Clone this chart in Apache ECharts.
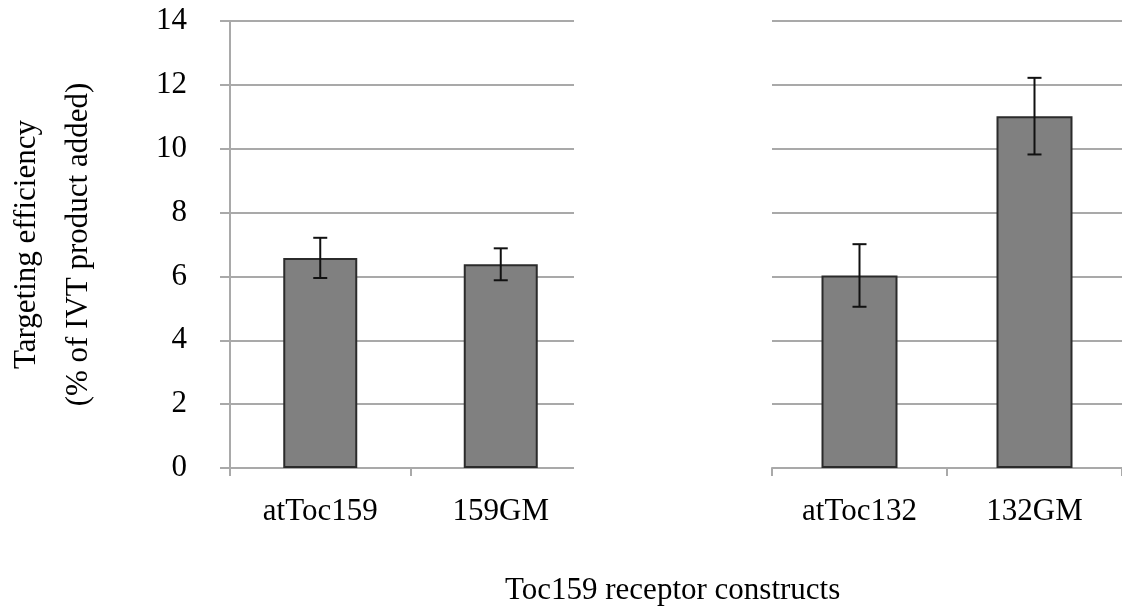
<!DOCTYPE html>
<html>
<head>
<meta charset="utf-8">
<style>
  html, body { margin: 0; padding: 0; background: #fff; }
  #main { width: 1122px; height: 611px; }
</style>
<script src="https://cdn.jsdelivr.net/npm/echarts@6/dist/echarts.min.js"></script>
</head>
<body>
<div id="main"></div>
<script>
// data
var leftCategories = ['atToc159', '159GM'];
var leftValues = [6.58, 6.38];
var leftErrors = [0.63, 0.5];

var rightCategories = ['atToc132', '132GM'];
var rightValues = [6.03, 11.02];
var rightErrors = [0.98, 1.2];

var yTicks = [0, 2, 4, 6, 8, 10, 12, 14];

var serif = "'Liberation Serif', 'Times New Roman', serif";
var gridColor = '#a9a9a9';

function errData(values, errors) {
    return values.map(function (v, i) { return [i, v, errors[i]]; });
}

// error bar with small caps
function renderErr(params, api) {
    var x = api.value(0), v = api.value(1), e = api.value(2);
    var hi = api.coord([x, v + e]);
    var lo = api.coord([x, v - e]);
    var cap = 7;
    var style = { stroke: '#111', lineWidth: 2 };
    return {
        type: 'group',
        children: [
            { type: 'line', shape: { x1: hi[0], y1: hi[1], x2: lo[0], y2: lo[1] }, style: style },
            { type: 'line', shape: { x1: hi[0] - cap, y1: hi[1], x2: hi[0] + cap, y2: hi[1] }, style: style },
            { type: 'line', shape: { x1: lo[0] - cap, y1: lo[1], x2: lo[0] + cap, y2: lo[1] }, style: style }
        ]
    };
}

function yAxisFor(gridIndex, showAxis) {
    return {
        type: 'value',
        gridIndex: gridIndex,
        min: yTicks[0],
        max: yTicks[yTicks.length - 1],
        interval: 2,
        axisLine: { show: showAxis, lineStyle: { color: gridColor, width: 2 } },
        axisTick: { show: showAxis, length: 10, lineStyle: { color: gridColor, width: 2 } },
        axisLabel: { show: showAxis, color: '#000', fontSize: 31, fontFamily: serif, margin: 43 },
        splitLine: { show: true, lineStyle: { color: gridColor, width: 2 } },
        name: showAxis ? 'Targeting efficiency\n(% of IVT product added)' : '',
        nameLocation: 'middle',
        nameRotate: 90,
        nameGap: 125,
        nameTextStyle: { color: '#000', fontSize: 31, fontFamily: serif, lineHeight: 52 }
    };
}

function xAxisFor(gridIndex, cats) {
    return {
        type: 'category',
        gridIndex: gridIndex,
        data: cats,
        axisLine: { show: true, lineStyle: { color: gridColor, width: 2 } },
        axisTick: { show: true, length: 8, lineStyle: { color: gridColor, width: 2 } },
        axisLabel: { color: '#000', fontSize: 31, fontFamily: serif, margin: 28 }
    };
}

var barStyle = { color: '#808080', borderColor: '#2b2b2b', borderWidth: 2 };

var myChart = echarts.init(document.getElementById('main'));
var option = {
    animation: false,
    backgroundColor: '#fff',
    title: {
        text: 'Toc159 receptor constructs',
        left: 500,
        top: 570,
        textStyle: { color: '#000', fontSize: 31, fontWeight: 'normal', fontFamily: serif }
    },
    grid: [
        { left: 221, top: 21, width: 370, height: 447 },
        { left: 772, top: 21, width: 360, height: 447 }
    ],
    xAxis: [xAxisFor(0, leftCategories), xAxisFor(1, rightCategories)],
    yAxis: [yAxisFor(0, true), yAxisFor(1, false)],
    series: [
        { type: 'bar', xAxisIndex: 0, yAxisIndex: 0, data: leftValues, barWidth: 74, itemStyle: barStyle },
        { type: 'bar', xAxisIndex: 1, yAxisIndex: 1, data: rightValues, barWidth: 76, itemStyle: barStyle },
        { type: 'custom', xAxisIndex: 0, yAxisIndex: 0, data: errData(leftValues, leftErrors), renderItem: renderErr, z: 5 },
        { type: 'custom', xAxisIndex: 1, yAxisIndex: 1, data: errData(rightValues, rightErrors), renderItem: renderErr, z: 5 }
    ],
    // the right panel sits over the end of the left one
    graphic: [{
        type: 'rect',
        shape: { x: 574, y: 0, width: 197, height: 478 },
        style: { fill: '#fff' },
        z: 100
    }]
};
myChart.setOption(option);
</script>
</body>
</html>
